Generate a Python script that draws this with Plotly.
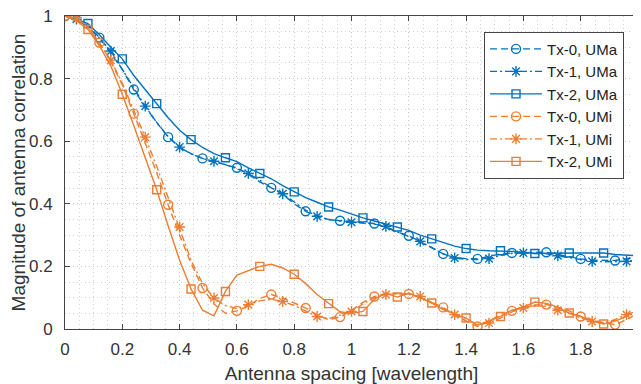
import plotly.graph_objects as go

# Antenna spacing grid [wavelength]
spacing = [round(0.04 * i, 2) for i in range(51)]

uma_tx0 = [1.0, 0.99, 0.97, 0.931, 0.88, 0.83, 0.765, 0.71, 0.66, 0.613,
           0.58, 0.56, 0.545, 0.535, 0.525, 0.515, 0.495, 0.47, 0.451, 0.43,
           0.40, 0.376, 0.36, 0.35, 0.346, 0.345, 0.34, 0.337, 0.325, 0.31,
           0.298, 0.28, 0.26, 0.240, 0.228, 0.225, 0.224, 0.232, 0.24, 0.243,
           0.245, 0.245, 0.245, 0.238, 0.23, 0.224, 0.22, 0.22, 0.219, 0.225, 0.23]
uma_tx1 = [1.0, 0.99, 0.965, 0.93, 0.888, 0.83, 0.77, 0.712, 0.66, 0.615,
           0.581, 0.56, 0.545, 0.536, 0.525, 0.512, 0.497, 0.475, 0.452, 0.432,
           0.405, 0.38, 0.36, 0.35, 0.345, 0.341, 0.338, 0.335, 0.328, 0.31,
           0.295, 0.28, 0.26, 0.24, 0.227, 0.222, 0.222, 0.225, 0.235, 0.242,
           0.243, 0.242, 0.24, 0.234, 0.228, 0.222, 0.216, 0.215, 0.215, 0.216, 0.22]
uma_tx2 = [1.0, 0.99, 0.976, 0.94, 0.90, 0.863, 0.81, 0.765, 0.720, 0.675,
           0.635, 0.605, 0.58, 0.56, 0.547, 0.535, 0.515, 0.497, 0.48, 0.458,
           0.438, 0.42, 0.405, 0.39, 0.38, 0.367, 0.355, 0.345, 0.335, 0.326,
           0.315, 0.30, 0.288, 0.277, 0.265, 0.257, 0.252, 0.25, 0.25, 0.248,
           0.245, 0.241, 0.242, 0.243, 0.243, 0.243, 0.243, 0.243, 0.238, 0.235, 0.234]
umi_tx0 = [1.0, 0.99, 0.965, 0.915, 0.855, 0.78, 0.688, 0.595, 0.50, 0.397,
           0.30, 0.21, 0.131, 0.08, 0.05, 0.058, 0.074, 0.098, 0.11, 0.099,
           0.083, 0.067, 0.045, 0.03, 0.038, 0.06, 0.085, 0.104, 0.11, 0.113,
           0.112, 0.1, 0.085, 0.069, 0.045, 0.025, 0.008, 0.025, 0.045, 0.058,
           0.068, 0.077, 0.078, 0.07, 0.058, 0.04, 0.03, 0.02, 0.014, 0.03, 0.05]
umi_tx1 = [1.0, 0.995, 0.965, 0.91, 0.859, 0.785, 0.70, 0.613, 0.52, 0.42,
           0.326, 0.22, 0.145, 0.099, 0.075, 0.065, 0.078, 0.09, 0.095, 0.088,
           0.075, 0.058, 0.04, 0.033, 0.045, 0.056, 0.08, 0.1, 0.11, 0.113,
           0.11, 0.104, 0.085, 0.065, 0.046, 0.03, 0.015, 0.019, 0.035, 0.055,
           0.067, 0.075, 0.072, 0.06, 0.05, 0.035, 0.024, 0.02, 0.03, 0.046, 0.06]
umi_tx2 = [1.0, 0.985, 0.957, 0.905, 0.84, 0.75, 0.65, 0.545, 0.445, 0.33,
           0.22, 0.128, 0.06, 0.042, 0.12, 0.172, 0.185, 0.200, 0.207, 0.195,
           0.175, 0.145, 0.11, 0.081, 0.055, 0.05, 0.056, 0.095, 0.115, 0.102,
           0.115, 0.1, 0.083, 0.062, 0.048, 0.035, 0.012, 0.025, 0.04, 0.06,
           0.07, 0.086, 0.082, 0.07, 0.051, 0.04, 0.025, 0.016, 0.025, 0.04, 0.064]

series_names = ["Tx-0, UMa", "Tx-1, UMa", "Tx-2, UMa", "Tx-0, UMi", "Tx-1, UMi", "Tx-2, UMi"]
series_values = [uma_tx0, uma_tx1, uma_tx2, umi_tx0, umi_tx1, umi_tx2]

x_ticks = [0, 0.2, 0.4, 0.6, 0.8, 1, 1.2, 1.4, 1.6, 1.8, 2]
x_tick_labels = ["0", "0.2", "0.4", "0.6", "0.8", "1", "1.2", "1.4", "1.6", "1.8", "2"]
y_ticks = [0, 0.2, 0.4, 0.6, 0.8, 1]
y_tick_labels = ["0", "0.2", "0.4", "0.6", "0.8", "1"]

BLUE = "#0072BD"
ORANGE = "#ED7D31"
colors = [BLUE, BLUE, BLUE, ORANGE, ORANGE, ORANGE]
dashes = ["7px,4px", "7px,3px,2px,3px", "solid"] * 2
symbols = ["circle-open", "asterisk-open", "square-open"] * 2
sizes = [9, 9, 8] * 2
offsets = [0, 1, 2] * 2

fig = go.Figure()
for name, vals, col, dash, sym, sz, off in zip(series_names, series_values, colors,
                                               dashes, symbols, sizes, offsets):
    fig.add_trace(go.Scatter(x=spacing, y=vals, mode="lines", legendgroup=name,
                             showlegend=False, line=dict(color=col, width=1.4, dash=dash),
                             hoverinfo="skip"))
    fig.add_trace(go.Scatter(x=spacing[off::3], y=vals[off::3], mode="markers",
                             legendgroup=name, showlegend=False,
                             marker=dict(symbol=sym, size=sz, color=col,
                                         line=dict(color=col, width=1.4))))
    fig.add_trace(go.Scatter(x=[None], y=[None], mode="lines+markers", name=name,
                             legendgroup=name,
                             line=dict(color=col, width=1.4, dash=dash),
                             marker=dict(symbol=sym, size=sz, color=col,
                                         line=dict(color=col, width=1.4))))

FONT = "Liberation Sans, Arial, sans-serif"
TXT = "#333333"
axis_common = dict(
    automargin=False,
    ticklabeloverflow="allow",
    showline=True, linecolor="#444444", linewidth=1, mirror="ticks",
    ticks="inside", ticklen=5, tickcolor="#444444", tickwidth=1,
    showgrid=True, gridcolor="#c4c4c4", griddash="1px,3px", gridwidth=1,
    zeroline=False,
    tickfont=dict(family=FONT, size=17, color=TXT),
    minor=dict(dtick=0.05, showgrid=True, gridcolor="#d2d2d2", griddash="1px,3px",
               gridwidth=1, ticks=""),
)

# the page body adds an 8px offset; the figure is sized to fill the rest
fig.update_layout(
    width=633, height=376,
    margin=dict(l=57, r=3, t=8, b=55),
    paper_bgcolor="white", plot_bgcolor="white",
    font=dict(family=FONT, color=TXT),
    xaxis=dict(range=[0, 2], tickvals=x_ticks, ticktext=x_tick_labels,
               ticklabelstandoff=5,
               title=dict(text="Antenna spacing [wavelength]",
                          font=dict(family=FONT, size=19, color=TXT), standoff=8),
               **axis_common),
    yaxis=dict(range=[0, 1], tickvals=y_ticks, ticktext=y_tick_labels,
               ticklabelstandoff=8,
               title=dict(text="Magnitude of antenna correlation",
                          font=dict(family=FONT, size=19, color=TXT), standoff=0),
               **axis_common),
    legend=dict(x=0.9756, y=0.950, xanchor="right", yanchor="top",
                bgcolor="white", bordercolor="#444444", borderwidth=1,
                font=dict(family=FONT, size=15, color="#222222"),
                itemwidth=52, tracegroupgap=0),
    showlegend=True,
)

fig.write_html("out.html")
